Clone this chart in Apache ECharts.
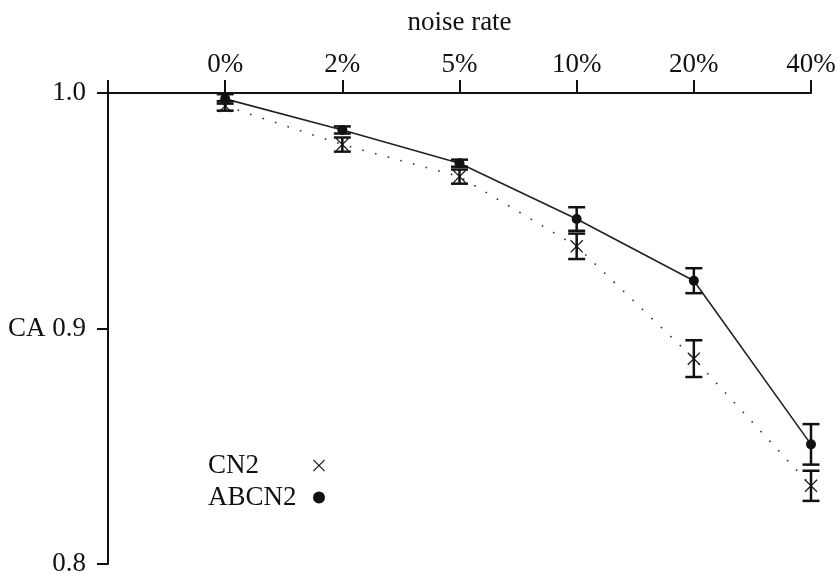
<!DOCTYPE html>
<html>
<head>
<meta charset="utf-8">
<script src="https://cdn.jsdelivr.net/npm/echarts@6/dist/echarts.min.js"></script>
<style>html,body{margin:0;padding:0;background:#fff;}#c{width:840px;height:578px;}</style>
</head>
<body>
<div id="c"></div>
<script>
var categories = ['0%', '2%', '5%', '10%', '20%', '40%'];
var cn2Mean = [0.9945, 0.9781, 0.9645, 0.9349, 0.8872, 0.8332];
var cn2Err  = [0.0020, 0.0030, 0.0030, 0.0054, 0.0078, 0.0064];
var abcn2Mean = [0.9975, 0.9843, 0.9702, 0.9465, 0.9203, 0.8508];
var abcn2Err  = [0.0020, 0.0015, 0.0015, 0.0050, 0.0053, 0.0086];
var yTicks = [0.8, 0.9, 1.0];

var FONT = 'Liberation Serif';
var FS = 27;
var INK = '#111';
var xPath = 'path://M0,0.8L0.8,0L6,5.2L11.2,0L12,0.8L6.8,6L12,11.2L11.2,12L6,6.8L0.8,12L0,11.2L5.2,6Z';

function pts(arr) { return arr.map(function (v, i) { return [i, v]; }); }
function errData(m, e) { return m.map(function (v, i) { return [i, v - e[i], v + e[i]]; }); }

function errRender(params, api) {
  var x = api.value(0);
  var lo = api.coord([x, api.value(1)]);
  var hi = api.coord([x, api.value(2)]);
  var hw = 8.5;
  var st = { stroke: INK, lineWidth: 2.5 };
  return {
    type: 'group',
    children: [
      { type: 'line', shape: { x1: lo[0], y1: lo[1], x2: hi[0], y2: hi[1] }, style: st },
      { type: 'line', shape: { x1: lo[0] - hw, y1: lo[1], x2: lo[0] + hw, y2: lo[1] }, style: st },
      { type: 'line', shape: { x1: hi[0] - hw, y1: hi[1], x2: hi[0] + hw, y2: hi[1] }, style: st }
    ]
  };
}

var chart = echarts.init(document.getElementById('c'), null, { renderer: 'canvas' });
chart.setOption({
  animation: false,
  backgroundColor: '#fff',
  textStyle: { fontFamily: FONT, color: INK },
  grid: { left: 108, right: 29, top: 93, bottom: 14 },
  legend: {
    orient: 'vertical',
    left: 203,
    top: 447,
    align: 'right',
    itemWidth: 12,
    itemHeight: 12,
    itemGap: 5,
    selectedMode: false,
    formatter: function (n) { return '{a|' + n + '}'; },
    textStyle: {
      fontFamily: FONT, fontSize: FS, color: INK,
      rich: { a: { width: 100, align: 'left', fontFamily: FONT, fontSize: FS, color: INK, lineHeight: 30 } }
    },
    data: [
      { name: 'CN2', icon: xPath },
      { name: 'ABCN2', icon: 'circle', itemStyle: { borderWidth: 0 } }
    ]
  },
  xAxis: {
    type: 'value',
    position: 'top',
    min: -1, max: 5, interval: 1,
    name: 'noise rate',
    nameLocation: 'middle',
    nameGap: 57,
    nameTextStyle: { fontFamily: FONT, fontSize: FS, color: INK },
    splitLine: { show: false },
    axisLine: { show: true, onZero: false, lineStyle: { color: INK, width: 2 } },
    axisTick: { show: true, length: 13, lineStyle: { color: INK, width: 2 } },
    axisLabel: {
      fontFamily: FONT, fontSize: FS, color: INK, margin: 15,
      formatter: function (v) { return v >= 0 ? categories[v] : ''; }
    }
  },
  yAxis: {
    type: 'value',
    min: 0.8, max: 1.0, interval: 0.1,
    splitLine: { show: false },
    axisLine: { show: true, onZero: false, lineStyle: { color: INK, width: 2 } },
    axisTick: { show: true, length: 11, lineStyle: { color: INK, width: 2 } },
    axisLabel: {
      fontFamily: FONT, fontSize: FS, color: INK, margin: 22,
      customValues: yTicks,
      formatter: function (v) {
        var s = v.toFixed(1);
        return Math.abs(v - 0.9) < 1e-9 ? 'CA ' + s : s;
      }
    }
  },
  series: [
    {
      name: 'CN2', type: 'line', data: pts(cn2Mean),
      symbol: xPath, symbolSize: 13, showSymbol: true,
      itemStyle: { color: INK },
      lineStyle: { color: '#333', width: 1.6, type: [1.6, 11.5] },
      z: 3
    },
    {
      name: 'ABCN2', type: 'line', data: pts(abcn2Mean),
      symbol: 'circle', symbolSize: 10, showSymbol: true,
      itemStyle: { color: INK },
      lineStyle: { color: '#222', width: 1.6 },
      z: 3
    },
    {
      name: 'CN2 err', type: 'custom', data: errData(cn2Mean, cn2Err),
      renderItem: errRender, encode: { x: 0, y: [1, 2] }, clip: false, z: 4, silent: true
    },
    {
      name: 'ABCN2 err', type: 'custom', data: errData(abcn2Mean, abcn2Err),
      renderItem: errRender, encode: { x: 0, y: [1, 2] }, clip: false, z: 4, silent: true
    }
  ]
});
</script>
</body>
</html>
